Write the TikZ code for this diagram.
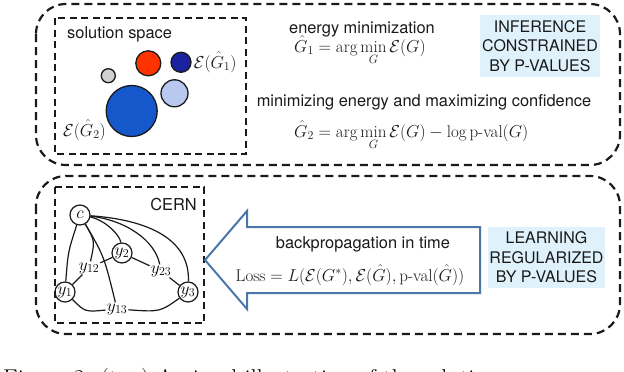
\documentclass[tikz,border=0pt]{standalone}
\usepackage{fontspec}
\setsansfont{TeX Gyre Heros}
\usepackage{amsmath}
\definecolor{tagblue}{HTML}{DFF2FC}
\definecolor{arrowblue}{HTML}{4A76A8}
\definecolor{cred}{HTML}{FF3300}
\definecolor{cnavy}{HTML}{1A22A0}
\definecolor{clight}{HTML}{B8C8EE}
\definecolor{cbig}{HTML}{1558CC}
\definecolor{cgray}{HTML}{D0D0D0}
\definecolor{ink}{HTML}{1A1A1A}
\begin{document}
\begin{tikzpicture}[x=1pt,y=-1pt,
  outerbox/.style={draw=ink, line width=2.2pt, dash pattern=on 8pt off 5pt, rounded corners=30pt},
  innerbox/.style={draw=ink, line width=2pt, dash pattern=on 7pt off 4.5pt},
  sol/.style={circle, draw=ink, line width=1.3pt, inner sep=0pt},
  txt/.style={inner sep=0pt, text=ink, font=\sffamily\fontsize{16.4}{19}\selectfont},
  mth/.style={inner sep=0pt, text=ink, font=\fontsize{17}{20}\selectfont},
  tag/.style={fill=tagblue, align=center, inner sep=0pt, text=ink,
    font=\sffamily\fontsize{16}{19.5}\selectfont},
  gnode/.style={circle, draw=ink, line width=1.2pt, inner sep=0pt, minimum size=20pt,
    font=\fontsize{17}{20}\selectfont},
  glabel/.style={inner sep=1pt, font=\fontsize{17}{20}\selectfont},
  gedge/.style={line width=1.2pt, draw=ink}]
\useasboundingbox (0,0) rectangle (624,372);

% outer boxes
\draw[outerbox] (36,4) rectangle (620,165);
\draw[outerbox] (36,176) rectangle (620,334);

% ---------- top panel ----------
\draw[innerbox] (55,18) rectangle (246,154);
\node[txt, anchor=base west] (ss) at (67,38) {solution space};

\node[sol, fill=cgray,  minimum size=14pt] (c0) at (108.3,75.7) {};
\node[sol, fill=cred,   minimum size=25pt] (c1) at (148.3,63.3) {};
\node[sol, fill=cnavy,  minimum size=20pt] (c2) at (181,62.3) {};
\node[sol, fill=clight, minimum size=27pt] (c3) at (174.5,93.3) {};
\node[sol, fill=cbig,   minimum size=51pt] (c4) at (131.7,111) {};
\node[mth, anchor=west] (l1) at ([xshift=2pt]c2.east) {$\mathcal{E}(\hat G_1)$};
\node[mth, anchor=east] (l2) at (106,130) {$\mathcal{E}(\hat G_2)$};

\node[txt, anchor=base] (em) at (362,34) {energy minimization};
\node[mth, anchor=base west] (f1) at (294,52) {$\displaystyle \hat G_1=\arg\min_G \mathcal{E}(G)$};
\node[txt, anchor=base] (mc) at (424,106) {minimizing energy and maximizing confidence};
\node[mth, anchor=base west] (f2) at (294,137) {$\displaystyle \hat G_2=\arg\min_G \mathcal{E}(G)-\log\text{p-val}(G)$};

\node[tag, minimum width=120pt, minimum height=62pt] (inf) at (540,46)
  {INFERENCE\\CONSTRAINED\\BY P-VALUES};

% ---------- bottom panel ----------
\draw[innerbox] (55,187) rectangle (204,323);
\node[txt, anchor=base east] (cern) at (197,210) {CERN};

\node[gnode] (c)  at (80,215) {$c$};
\node[gnode] (y2) at (122,253) {$y_2$};
\node[gnode] (y1) at (65,292) {$y_1$};
\node[gnode] (y3) at (188,292) {$y_3$};
\node[glabel] (y12) at (89,268) {$y_{12}$};
\node[glabel] (y23) at (161,271) {$y_{23}$};
\node[glabel] (y13) at (117,309) {$y_{13}$};

\draw[gedge] (c) .. controls (68,252) .. (y1);
\draw[gedge] (c) .. controls (95,241) .. (y12);
\draw[gedge] (c) .. controls (104,256) .. (y13);
\draw[gedge] (c) .. controls (105,220) and (120,235) .. (y2);
\draw[gedge] (c) .. controls (125,220) and (155,240) .. (y23);
\draw[gedge] (c) .. controls (150,220) and (190,240) .. (y3);
\draw[gedge] (y1) -- (y12);
\draw[gedge] (y12) -- (y2);
\draw[gedge] (y2) -- (y23);
\draw[gedge] (y23) -- (y3);
\draw[gedge] (y1) .. controls (85,312) .. (y13);
\draw[gedge] (y13) .. controls (160,312) .. (y3);

% arrow
\draw[draw=arrowblue, line width=2pt, fill=white, line join=miter]
  (480,227) -- (247,227) -- (247,211) -- (205,260) -- (247,309) -- (247,293) -- (480,293) -- cycle;
\node[txt, anchor=base] (bp) at (363,248) {backpropagation in time};
\node[mth, anchor=base] (loss) at (350,281)
  {$\mathrm{Loss}=L(\mathcal{E}(G^{*}),\mathcal{E}(\hat G),\text{p-val}(\hat G))$};

\node[tag, minimum width=117pt, minimum height=61pt] (lrn) at (546.5,257.5)
  {LEARNING\\REGULARIZED\\BY P-VALUES};

% caption (cut off at the bottom)
\node[inner sep=0pt, anchor=base west, font=\fontsize{24.3}{28}\selectfont] (cap) at (3,386)
  {Figure 2: (top) A visual illustration of the solution};
\end{tikzpicture}
\end{document}
